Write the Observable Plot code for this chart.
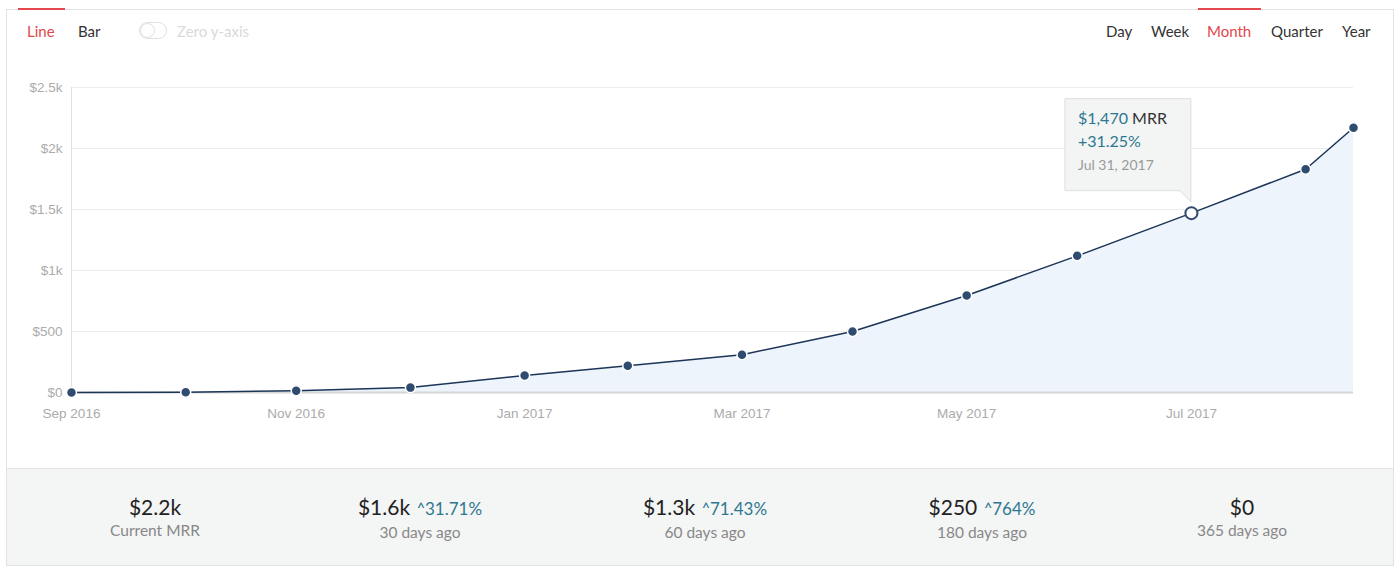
<!DOCTYPE html>
<html><head><meta charset="utf-8">
<script src="https://cdn.jsdelivr.net/npm/d3@7"></script>
<script src="https://cdn.jsdelivr.net/npm/@observablehq/plot@0.6"></script>
<style>
html,body{margin:0;padding:0;background:#fff;width:1400px;height:576px;overflow:hidden;font-family:Lato,"Open Sans",sans-serif;}
#root{position:relative;width:1400px;height:576px;}
.abs{position:absolute;white-space:nowrap;}
.menu{font-size:15px;line-height:20px;top:21px;color:#333;}
.red{color:#e4474c;}
.bar{position:absolute;height:2px;background:#e4474c;top:8px;}
#chart{position:absolute;left:0;top:60px;}
.tt{font-size:16px;line-height:22px;}
.teal{color:#2d7890;}
.col{position:absolute;top:493px;width:300px;text-align:center;}
.val{font-size:21px;line-height:28px;color:#222;}
.pct{font-size:17px;color:#2d7890;margin-left:7px;}
.lab{font-size:15.5px;line-height:20px;color:#888;margin-top:-1px;}
</style></head>
<body><div id="root"></div>
<script>
// ---- data ----
const dates = ["2016-09-30","2016-10-31","2016-11-30","2016-12-31","2017-01-31","2017-02-28","2017-03-31","2017-04-30","2017-05-31","2017-06-30","2017-07-31","2017-08-31","2017-09-13"];
const mrr = [0, 2, 15, 40, 140, 220, 310, 500, 795, 1120, 1470, 1830, 2170];
const highlightIndex = 10;
const tooltipValue = "$1,470";
const tooltipChange = "+31.25%";
const tooltipDate = "Jul 31, 2017";
const yTicks = [0, 500, 1000, 1500, 2000, 2500];
const yTickLabels = ["$0", "$500", "$1k", "$1.5k", "$2k", "$2.5k"];
const xTicks = ["2016-09-30","2016-11-30","2017-01-31","2017-03-31","2017-05-31","2017-07-31"];
const xTickLabels = ["Sep 2016","Nov 2016","Jan 2017","Mar 2017","May 2017","Jul 2017"];
const chartTypes = ["Line", "Bar"];
const periods = ["Day", "Week", "Month", "Quarter", "Year"];
const statValues = ["$2.2k", "$1.6k", "$1.3k", "$250", "$0"];
const statChanges = ["", "31.71%", "71.43%", "764%", ""];
const statLabels = ["Current MRR", "30 days ago", "60 days ago", "180 days ago", "365 days ago"];

const data = dates.map((d, i) => ({date: new Date(d), mrr: mrr[i]}));
const xTickDates = xTicks.map(d => new Date(d));
const root = document.getElementById("root");

function el(tag, cls, style, text, parent) {
  const e = document.createElement(tag);
  if (cls) e.className = cls;
  if (style) e.setAttribute("style", style);
  if (text != null) e.textContent = text;
  (parent || root).appendChild(e);
  return e;
}

// outer frame
el("div", "abs", "left:6px;top:9px;width:1386px;height:555px;border:1px solid #e2e2e2;");
// bottom panel
el("div", "abs", "left:7px;top:468px;width:1386px;height:96px;background:#f4f5f5;border-top:1px solid #e2e2e2;");

// top menus
el("div", "bar", "left:18px;width:47px;");
el("div", "abs menu red", "left:27px;", chartTypes[0]);
el("div", "abs menu", "left:78px;", chartTypes[1]);
el("div", "abs", "left:139px;top:22px;width:26px;height:15px;border:1px solid #e0e0e0;border-radius:9px;");
el("div", "abs", "left:140px;top:23px;width:13px;height:13px;border:1px solid #e0e0e0;border-radius:50%;background:#fff;");
el("div", "abs menu", "left:177px;color:#d9d9d9;", "Zero y-axis");
const periodLeft = [1106, 1151, 1207, 1271, 1342];
el("div", "bar", "left:1198px;width:63px;");
periods.forEach((p, i) => el("div", "abs menu" + (p === "Month" ? " red" : ""), `left:${periodLeft[i]}px;`, p));

// chart
const hl = data[highlightIndex];
const chart = Plot.plot({
  width: 1400, height: 380,
  marginLeft: 71, marginRight: 47, marginTop: 27, marginBottom: 48,
  x: {type: "utc", domain: [data[0].date, data[data.length - 1].date]},
  y: {domain: [0, 2500]},
  style: {fontFamily: "'Liberation Sans', Arial, sans-serif", fontSize: "13.5px", color: "#ababab", background: "transparent", overflow: "visible"},
  marks: [
    Plot.ruleY(yTicks.slice(1), {stroke: "#ececec", strokeWidth: 1}),
    Plot.areaY(data, {x: "date", y: "mrr", fill: "#edf4fb"}),
    Plot.ruleX([data[0].date], {y1: 0, y2: 2500, stroke: "#e0e0e0"}),
    Plot.ruleY([0], {stroke: "#d6d6d6", strokeWidth: 2}),
    Plot.line(data, {x: "date", y: "mrr", stroke: "#1d3557", strokeWidth: 1.5}),
    Plot.dot(data.filter((d, i) => i !== highlightIndex), {x: "date", y: "mrr", r: 5, fill: "#2f4b70", stroke: "#fff", strokeWidth: 1.5}),
    Plot.dot([hl], {x: "date", y: "mrr", r: 6, fill: "#fff", stroke: "#2f4b70", strokeWidth: 2}),
    Plot.axisY(yTicks, {tickSize: 0, tickPadding: 9, label: null, fill: "#ababab", tickFormat: d => yTickLabels[yTicks.indexOf(d)]}),
    Plot.axisX(xTickDates, {tickSize: 0, tickPadding: 16, label: null, fill: "#ababab", tickFormat: d => xTickLabels[xTickDates.findIndex(t => +t === +d)]})
  ]
});
chart.id = "chart";
root.appendChild(chart);

// tooltip positioned from the scales
const px = chart.scale("x").apply(hl.date);
const py = chart.scale("y").apply(hl.mrr);
const W = 126, T = py - 114, B = py - 22;
d3.select(chart).append("path")
  .attr("d", `M${px - W},${T} H${px} V${py - 11} L${px - 11},${B} H${px - W} Z`)
  .attr("fill", "#f3f4f4").attr("stroke", "#dedede").attr("stroke-width", 1);
const top0 = 60;
const tt1 = el("div", "abs tt", `left:${px - 113}px;top:${top0 + T + 8}px;color:#333;`);
el("span", "teal", null, tooltipValue, tt1);
tt1.appendChild(document.createTextNode(" MRR"));
el("div", "abs tt teal", `left:${px - 113}px;top:${top0 + T + 31}px;`, tooltipChange);
el("div", "abs", `left:${px - 113}px;top:${top0 + T + 56}px;font-size:14px;line-height:20px;color:#9a9a9a;`, tooltipDate);

// stats
const statCenters = [155, 420, 705, 982, 1242];
statValues.forEach((v, i) => {
  const c = el("div", "col", `left:${statCenters[i] - 150}px;`, null);
  const vd = el("div", "val", null, v, c);
  if (statChanges[i]) el("span", "pct", null, "\u02C4" + statChanges[i], vd);
  el("div", "lab", null, statLabels[i], c);
});
</script>
</body></html>
